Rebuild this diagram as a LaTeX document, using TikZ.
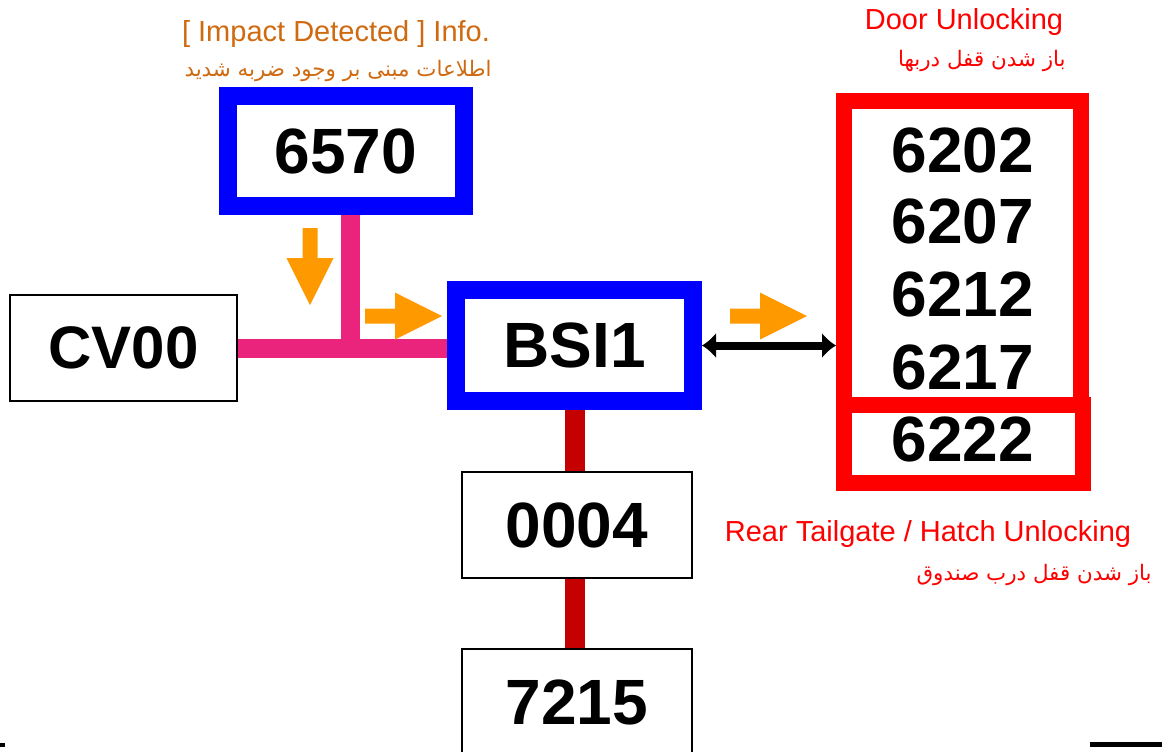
\documentclass[tikz,border=0pt]{standalone}
\usepackage{fontspec}
\setmainfont{Liberation Sans}
\newfontfamily\farsifont[Script=Arabic]{DejaVu Sans}
\TeXXeTstate=1
\usetikzlibrary{arrows.meta}

\definecolor{infoorange}{RGB}{208,106,16}
\definecolor{arroworange}{RGB}{255,153,0}
\definecolor{buspink}{RGB}{234,36,124}
\definecolor{busred}{RGB}{196,0,0}
\definecolor{framered}{RGB}{255,0,0}
\definecolor{frameblue}{RGB}{0,0,255}

\newcommand{\flowarrow}[2]{%
  \begin{scope}[shift={#1}, rotate=#2]
    \fill[arroworange] (0,0) -- (-47,-23.5) -- (-47,-7.5) -- (-77,-7.5)
      -- (-77,7.5) -- (-47,7.5) -- (-47,23.5) -- cycle;
  \end{scope}
}

\begin{document}
\begin{tikzpicture}[x=0.5pt, y=-0.5pt, >={Latex[length=7pt,width=13pt]},
  every node/.style={inner sep=0pt},
  digits/.style={font=\fontsize{32}{32}\selectfont\bfseries},
  ecu/.style={digits, draw, line width=1pt, fill=white,
    minimum width=115pt, minimum height=53pt},
  blueframe/.style={digits, draw=frameblue, line width=8pt, fill=white,
    path picture={\draw[line width=0.8pt]
      ([shift={(4.4pt,-4.4pt)}]path picture bounding box.north west) rectangle
      ([shift={(-4.4pt,4.4pt)}]path picture bounding box.south east);}},
  redframe/.style={draw=framered, line width=8pt},
  pinkbus/.style={buspink, line width=9.5pt},
  redbus/.style={busred, line width=10pt},
  linkarrow/.style={<->, line width=4pt},
  infotext/.style={font=\fontsize{14.5}{16}\selectfont},
  farsi/.style={font=\fontsize{10.7}{12}\farsifont, anchor=east}]

  \useasboundingbox[fill=white] (0,0) rectangle (1162,751);

  % ECUs on the bus
  \node[ecu, font=\fontsize{30}{30}\selectfont\bfseries, minimum width=113.5pt] (cv00) at (123.5,348) {CV00};
  \node[blueframe, minimum width=119pt, minimum height=56pt] (n6570) at (346,151) {6570};
  \node[blueframe, minimum width=119.5pt, minimum height=56.5pt] (bsi1) at (574.5,345.5) {BSI1};
  \node[ecu] (n0004) at (577,525) {0004};
  \node[ecu] (n7215) at (577,702) {7215};

  % Door and hatch groups
  \node[redframe, minimum width=118.5pt, minimum height=152pt] (doorgrp) at (962.5,253) {};
  \node[redframe, minimum width=119.5pt, minimum height=39pt] (hatchgrp) at (963.5,444) {};
  \foreach \code/\ypos in {6202/150, 6207/221, 6212/294, 6217/367, 6222/439}
    \node[digits] (n\code) at (963,\ypos) {\code};

  % Captions
  \node[infotext, text=infoorange] (impacten) at (336,34) {[ Impact Detected ] Info.};
  \node[farsi, text=infoorange] (impactfa) at (492,71) {\beginR اطلاعات مبنی بر وجود ضربه شدید\endR};
  \node[infotext, text=framered] (dooren) at (964,22) {Door Unlocking};
  \node[farsi, text=framered] (doorfa) at (1066,61) {\beginR باز شدن قفل دربها\endR};
  \node[infotext, text=framered] (rearen) at (928,534) {Rear Tailgate / Hatch Unlocking};
  \node[farsi, text=framered] (rearfa) at (1152,575) {\beginR باز شدن قفل درب صندوق\endR};

  % Bus lines
  \coordinate (tee) at (350,348);
  \draw[pinkbus] (cv00.east) -- (cv00.east -| bsi1.west);
  \draw[pinkbus] (n6570.south -| tee) -- (tee);
  \draw[redbus] (bsi1.south) -- (bsi1.south |- n0004.north);
  \draw[redbus] (n0004.south -| bsi1.south) -- (n7215.north -| bsi1.south);
  \draw[linkarrow] (bsi1.east) -- (bsi1.east -| doorgrp.west);

  % Message flow
  \flowarrow{(310,305)}{-90}
  \flowarrow{(442,316)}{0}
  \flowarrow{(807,316)}{0}

  % Edges of the page rule
  \draw[line width=2pt] (0,744.5) -- (5,744.5);
  \draw[line width=2.2pt] (1090,744.5) -- (1162,744.5);

\end{tikzpicture}
\end{document}
